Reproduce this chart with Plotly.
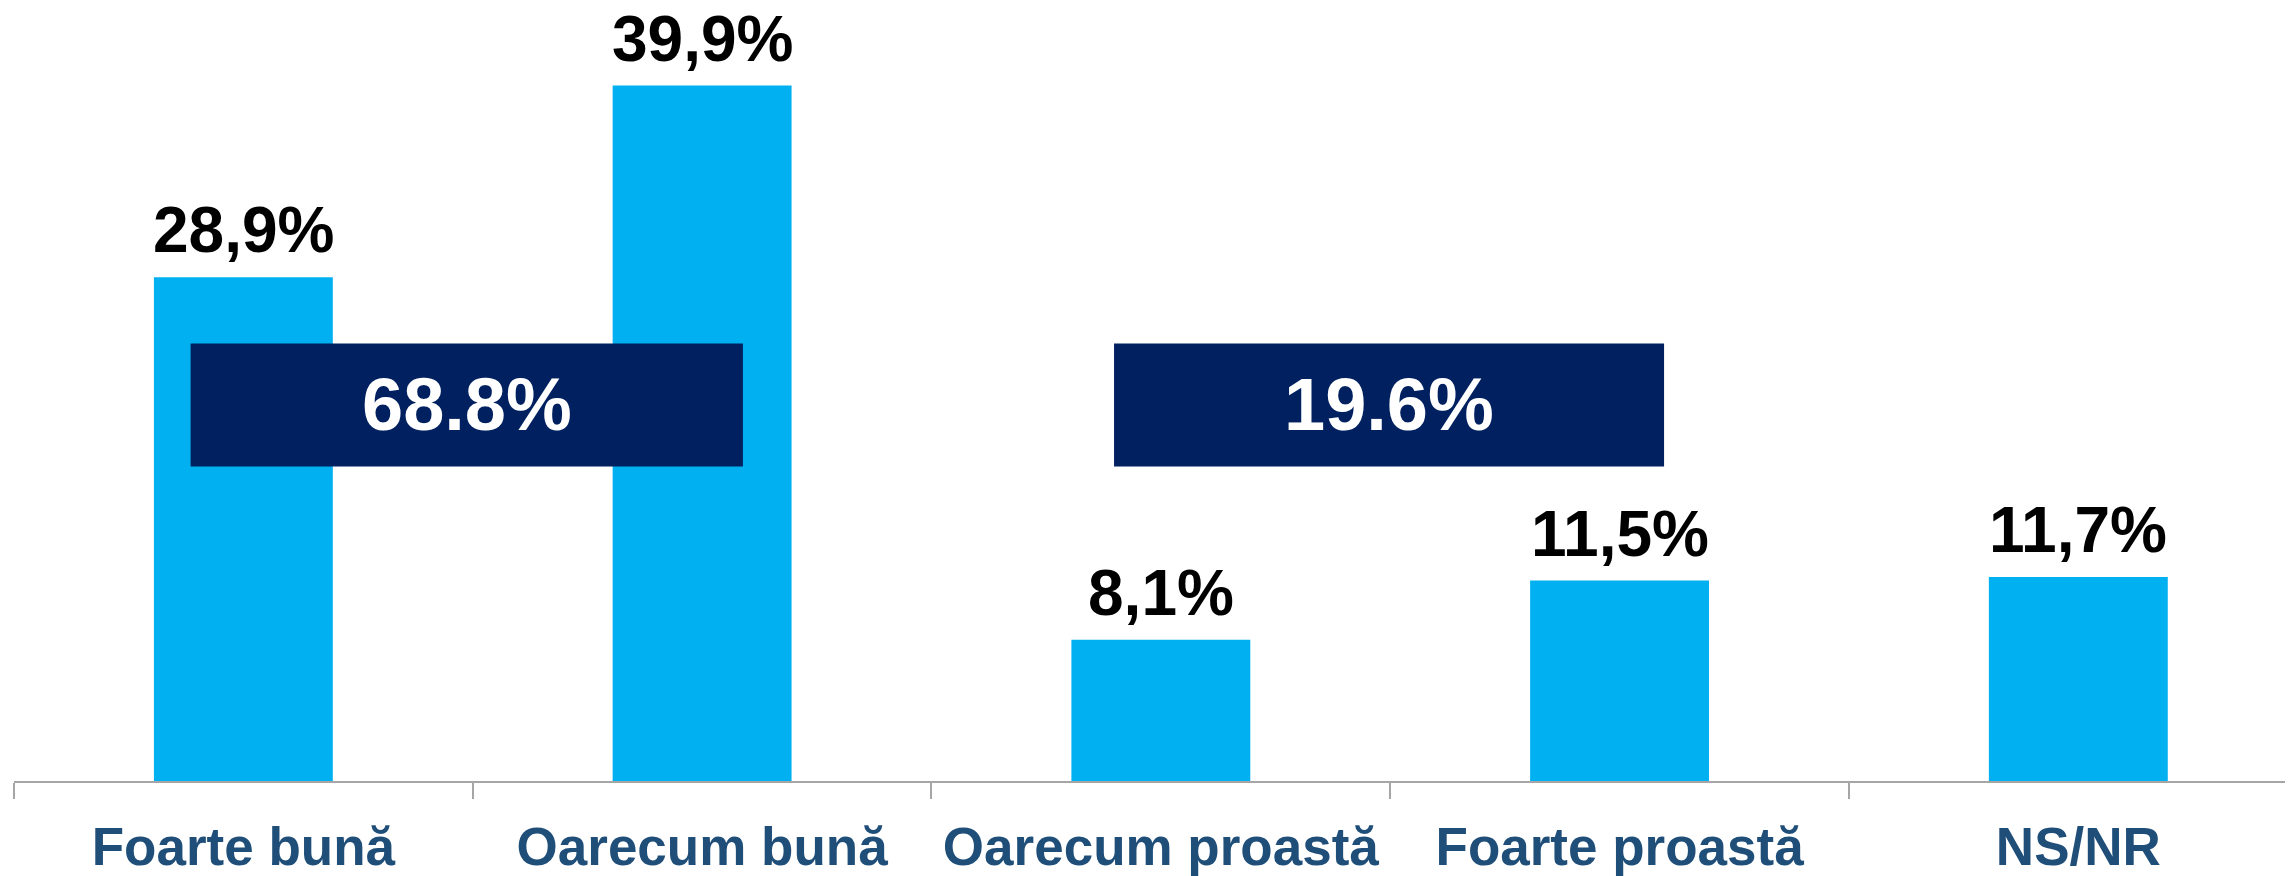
import plotly.graph_objects as go

categories = ["Foarte bună", "Oarecum bună", "Oarecum proastă", "Foarte proastă", "NS/NR"]
values = [28.9, 39.9, 8.1, 11.5, 11.7]
value_labels = ["28,9%", "39,9%", "8,1%", "11,5%", "11,7%"]
group_labels = ["68.8%", "19.6%"]

BAR = "#00B0F0"
BOX = "#002060"
LABEL = "#1F4E79"
FONT = "Liberation Sans, Arial, sans-serif"

fig = go.Figure()
fig.add_trace(go.Bar(
    x=categories, y=values, marker=dict(color=BAR, line=dict(width=0)),
    width=0.39, hoverinfo="skip", showlegend=False,
))

# value labels above bars
for c, v, t in zip(categories, values, value_labels):
    fig.add_annotation(x=c, y=v, text=f"<b>{t}</b>", showarrow=False,
                       yanchor="bottom", yshift=9,
                       font=dict(family=FONT, size=64, color="black"))

# group boxes
boxes = [(-0.115, 1.089, 18.05, 25.1), (1.898, 3.097, 18.05, 25.1)]
for (x0, x1, y0, y1), t in zip(boxes, group_labels):
    fig.add_shape(type="rect", xref="x", yref="y", x0=x0, x1=x1, y0=y0, y1=y1,
                  fillcolor=BOX, line=dict(width=0), layer="above")
    fig.add_annotation(x=(x0 + x1) / 2, y=(y0 + y1) / 2, text=f"<b>{t}</b>",
                       showarrow=False, xanchor="center", yanchor="middle",
                       font=dict(family=FONT, size=74, color="white"))

fig.update_layout(
    width=2285, height=868,
    margin=dict(l=6, r=0, t=0, b=90),
    plot_bgcolor="white", paper_bgcolor="white",
)
fig.update_xaxes(
    type="category", range=[-0.5, 4.468],
    showline=True, linecolor="#A6A6A6", linewidth=2,
    ticks="outside", ticklen=16, tickwidth=2, tickcolor="#A6A6A6",
    tickson="boundaries", ticklabelstandoff=18,
    tickfont=dict(family=FONT, size=53, color=LABEL, weight="bold"),
    showgrid=False, zeroline=False,
)
fig.update_yaxes(range=[0, 44.35], visible=False, showgrid=False, zeroline=False)

fig.write_html("out.html")
